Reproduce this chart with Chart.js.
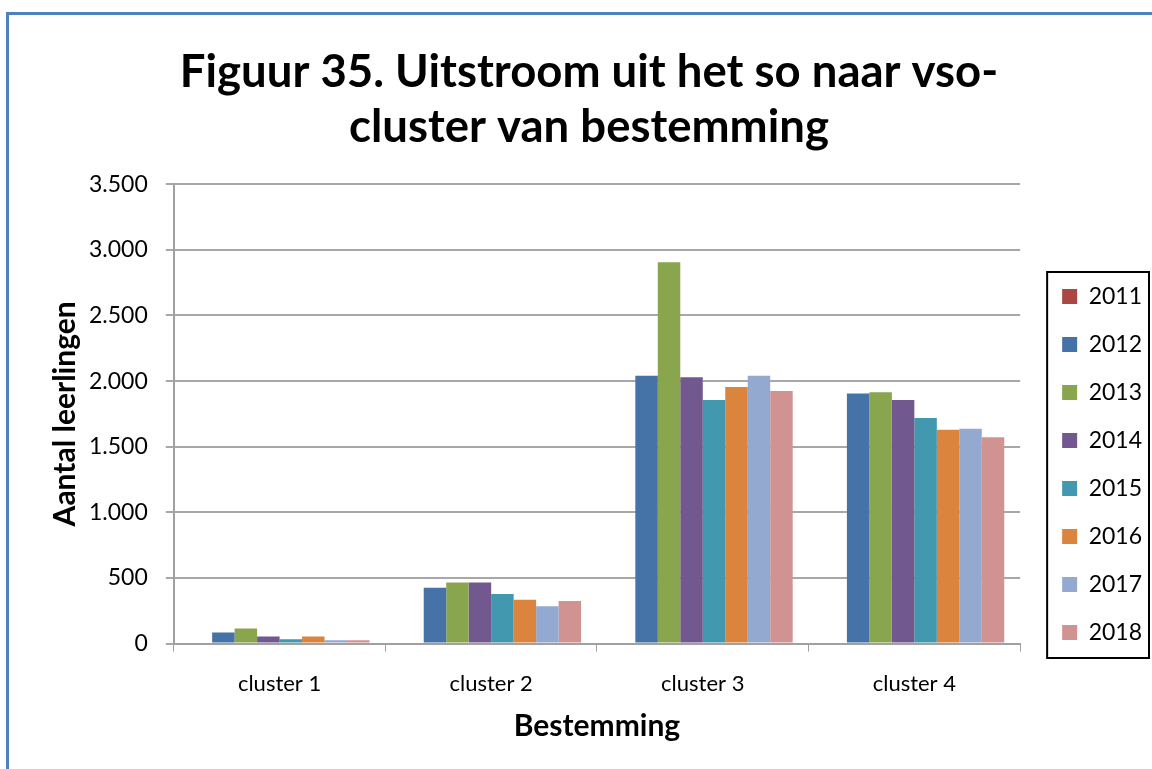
<!DOCTYPE html>
<html>
<head>
<meta charset="utf-8">
<script src="https://cdn.jsdelivr.net/npm/chart.js@4"></script>
<style>
  html, body { margin: 0; padding: 0; background: #fff; }
  #grafiek { display: block; }
</style>
</head>
<body>
<canvas id="grafiek" width="1152" height="769"></canvas>
<script>
var clusters = ['cluster 1', 'cluster 2', 'cluster 3', 'cluster 4'];
var jaren = ['2011', '2012', '2013', '2014', '2015', '2016', '2017', '2018'];

// aantal leerlingen per cluster (2011 heeft geen gegevens)
var v2011 = [null, null, null, null];
var v2012 = [85, 425, 2040, 1905];
var v2013 = [115, 465, 2905, 1915];
var v2014 = [55, 465, 2030, 1855];
var v2015 = [33, 377, 1855, 1718];
var v2016 = [55, 335, 1955, 1630];
var v2017 = [25, 285, 2040, 1637];
var v2018 = [25, 325, 1925, 1572];

var kleuren = ['#AA4643', '#4572A7', '#89A54E', '#71588F', '#4198AF', '#DB843D', '#93A9CF', '#D19392'];

var reeksen = [v2011, v2012, v2013, v2014, v2015, v2016, v2017, v2018];

var datasets = jaren.map(function (jaar, i) {
    return {
        label: jaar,
        data: reeksen[i],
        backgroundColor: kleuren[i],
        borderWidth: 0,
        categoryPercentage: 0.85,
        barPercentage: 1.0
    };
});

var fontFam = 'Lato, "Open Sans", sans-serif';

// legenda iets naar rechts en omlaag schuiven
var legendaPlugin = {
    id: 'legendaPositie',
    afterLayout: function (chart) {
        var lg = chart.legend;
        if (!lg) return;
        var dx = 17;
        lg.left += dx;
        lg.right += dx;
        lg.top = 260;
        lg.bottom = 769;
    }
};

// blauwe rand rond de hele figuur en een kader rond de legenda
var kaderPlugin = {
    id: 'kader',
    afterDraw: function (chart) {
        var ctx = chart.ctx;
        ctx.save();
        ctx.strokeStyle = '#4F81BD';
        ctx.lineWidth = 3;
        ctx.beginPath();
        ctx.moveTo(7.5, 790);
        ctx.lineTo(7.5, 13.5);
        ctx.lineTo(1170, 13.5);
        ctx.stroke();

        var lg = chart.legend;
        if (lg && lg.legendHitBoxes && lg.legendHitBoxes.length) {
            var boxes = lg.legendHitBoxes;
            var x0 = boxes[0].left - 15;
            var y0 = boxes[0].top - 13;
            var last = boxes[boxes.length - 1];
            var y1 = last.top + last.height + 14;
            var x1 = 1149;
            ctx.strokeStyle = '#000';
            ctx.lineWidth = 2;
            ctx.strokeRect(x0, y0, x1 - x0, y1 - y0);
        }
        ctx.restore();
    }
};

var ctx = document.querySelector('#grafiek').getContext('2d');
var grafiek = new Chart(ctx, {
    type: 'bar',
    data: {
        labels: clusters,
        datasets: datasets
    },
    options: {
        responsive: false,
        animation: false,
        layout: {
            padding: { top: 30, left: 43, right: 17, bottom: 21 }
        },
        plugins: {
            title: {
                display: true,
                text: ['Figuur 35. Uitstroom uit het so naar vso-', 'cluster van bestemming'],
                color: '#000',
                font: { family: fontFam, size: 45.5, weight: 'bold', lineHeight: 1.2 },
                padding: { top: 15, bottom: 30 }
            },
            legend: {
                position: 'right',
                align: 'start',
                labels: {
                    color: '#000',
                    boxWidth: 15,
                    boxHeight: 15,
                    padding: 25,
                    font: { family: fontFam, size: 23 }
                }
            },
            tooltip: { enabled: false }
        },
        scales: {
            x: {
                grid: {
                    drawOnChartArea: false,
                    color: '#A0A0A0',
                    tickLength: 8
                },
                border: { color: '#A0A0A0', width: 2 },
                ticks: {
                    color: '#000',
                    font: { family: fontFam, size: 22 },
                    padding: 19
                },
                title: {
                    display: true,
                    text: 'Bestemming',
                    color: '#000',
                    font: { family: fontFam, size: 30, weight: 'bold' },
                    padding: { top: -8, bottom: 4 }
                }
            },
            y: {
                min: 0,
                max: 3500,
                ticks: {
                    stepSize: 500,
                    color: '#000',
                    font: { family: fontFam, size: 23 },
                    padding: 18,
                    callback: function (v) {
                        return String(v).replace(/\B(?=(\d{3})+(?!\d))/g, '.');
                    }
                },
                grid: {
                    color: '#A8A8A8',
                    lineWidth: 2,
                    tickLength: 8
                },
                border: { color: '#A0A0A0', width: 2 },
                title: {
                    display: true,
                    text: 'Aantal leerlingen',
                    color: '#000',
                    font: { family: fontFam, size: 30, weight: 'bold' },
                    padding: { top: 4, bottom: -12 }
                }
            }
        }
    },
    plugins: [legendaPlugin, kaderPlugin]
});
</script>
</body>
</html>
